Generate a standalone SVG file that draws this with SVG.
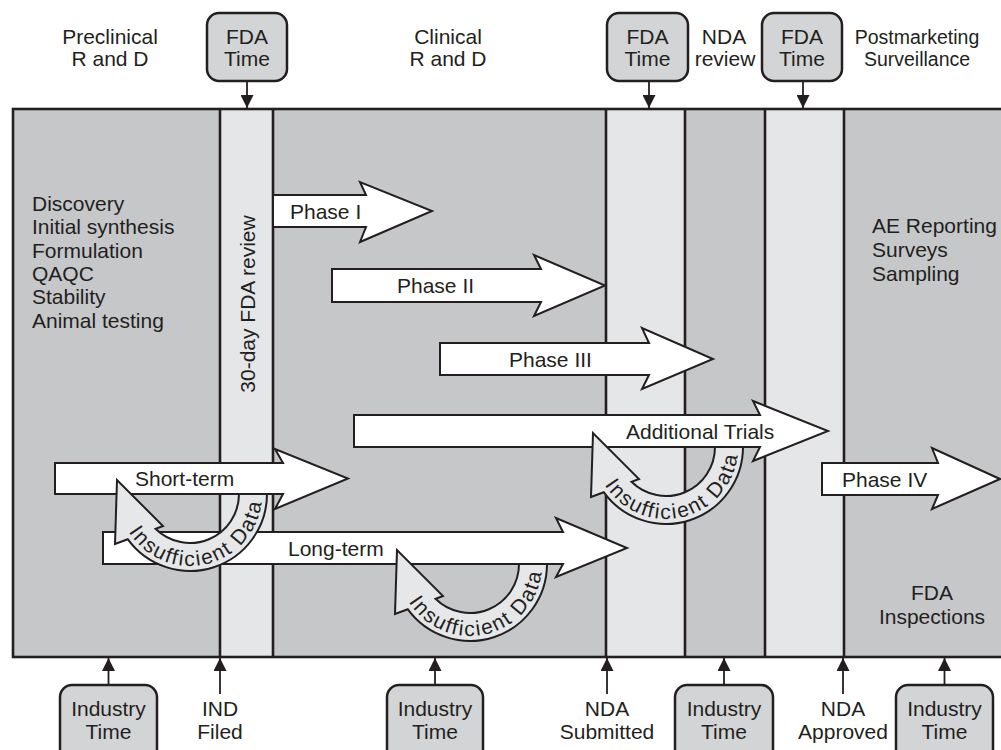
<svg xmlns="http://www.w3.org/2000/svg" xmlns:xlink="http://www.w3.org/1999/xlink" width="1001" height="750" viewBox="0 0 1001 750">
<style>
.t{font-family:"Liberation Sans",Arial,Helvetica,sans-serif;font-size:21px;fill:#231f20}
.m{text-anchor:middle}
.box{fill:#d3d4d6;stroke:#231f20;stroke-width:2.5}
.vl{stroke:#231f20;stroke-width:2.6;fill:none}
.arr{fill:#ffffff;stroke:#231f20;stroke-width:2;stroke-linejoin:miter}
.curv{fill:#e6e7e9;stroke:#231f20;stroke-width:2;stroke-linejoin:miter}
.con{stroke:#231f20;stroke-width:1.8;fill:none;marker-end:url(#ah)}
</style>
<defs>
<marker id="ah" viewBox="0 0 10 10" refX="10" refY="5" markerWidth="15" markerHeight="13" markerUnits="userSpaceOnUse" orient="auto">
<path d="M0,0 L10,5 L0,10 Z" fill="#231f20"/>
</marker>
<path id="cshape" d="M77,0 A77,77 0 0 1 -62.3,45.2 L-75,50 L-73,-14 L-27,32 L-34.5,34.8 A49,49 0 0 0 49,0 Z"/>
<path id="cpath" d="M-62.35,36 A72,72 0 0 0 72,0"/>
</defs>

<g id="background">
<rect x="13" y="109" width="1000" height="548" fill="#c6c7c9"/>
<rect x="220" y="109" width="53" height="548" fill="#e5e6e8"/>
<rect x="606" y="109" width="79" height="548" fill="#e5e6e8"/>
<rect x="765" y="109" width="79" height="548" fill="#e5e6e8"/>
<path class="vl" d="M220,109V657 M273,109V657 M606,109V657 M685,109V657 M765,109V657 M844,109V657"/>
<rect x="13" y="109" width="1000" height="548" fill="none" stroke="#231f20" stroke-width="2.6"/>
</g>

<g id="stage-texts">
<text class="t" x="32" y="211">Discovery</text>
<text class="t" x="32" y="234">Initial synthesis</text>
<text class="t" x="32" y="258">Formulation</text>
<text class="t" x="32" y="281">QAQC</text>
<text class="t" x="32" y="304">Stability</text>
<text class="t" x="32" y="328">Animal testing</text>
<text class="t m" transform="translate(255,304) rotate(-90)">30-day FDA review</text>
<text class="t" x="872" y="233">AE Reporting</text>
<text class="t" x="872" y="257">Surveys</text>
<text class="t" x="872" y="281">Sampling</text>
<text class="t m" x="932" y="600">FDA</text>
<text class="t m" x="932" y="624">Inspections</text>
</g>

<g id="phase-arrows">
<g id="phase1"><path class="arr" d="M273,195 L366,195 L360,182 L432,211 L360,242 L366,227 L273,227 Z"/><text class="t" x="290" y="218.5">Phase I</text></g>
<g id="phase2"><path class="arr" d="M332,269 L541,269 L534,255 L605,285.5 L534,316 L541,302 L332,302 Z"/><text class="t" x="397" y="293">Phase II</text></g>
<g id="phase3"><path class="arr" d="M440,343 L649,343 L642,328 L713,359 L642,389 L649,375 L440,375 Z"/><text class="t" x="509" y="366.5">Phase III</text></g>
<g id="additional"><path class="arr" d="M354,415 L760,415 L753,401 L828,431 L753,461 L760,447 L354,447 Z"/><text class="t" x="626" y="438.5">Additional Trials</text></g>
<g id="shortterm"><path class="arr" d="M55,463 L283,463 L275,449 L348,478.5 L275,509 L283,494 L55,494 Z"/><text class="t" x="135" y="486">Short-term</text></g>
<g id="longterm"><path class="arr" d="M103,532 L563,532 L556,518 L627,548 L556,577 L563,564 L103,564 Z"/><text class="t" x="288" y="555.5">Long-term</text></g>
<g id="phase4"><path class="arr" d="M822,463 L938,463 L932,448 L1000,479 L932,509 L938,495 L822,495 Z"/><text class="t" x="842" y="486.5">Phase IV</text></g>
</g>

<g id="insufficient-data">
<g id="loop1" transform="translate(190,494)"><use xlink:href="#cshape" href="#cshape" class="curv"/><text class="t" letter-spacing="1.7"><textPath xlink:href="#cpath" href="#cpath" startOffset="2">Insufficient Data</textPath></text></g>
<g id="loop2" transform="translate(470,564)"><use xlink:href="#cshape" href="#cshape" class="curv"/><text class="t" letter-spacing="1.7"><textPath xlink:href="#cpath" href="#cpath" startOffset="2">Insufficient Data</textPath></text></g>
<g id="loop3" transform="translate(666,447)"><use xlink:href="#cshape" href="#cshape" class="curv"/><text class="t" letter-spacing="1.7"><textPath xlink:href="#cpath" href="#cpath" startOffset="2">Insufficient Data</textPath></text></g>
</g>

<g id="top-labels">
<text class="t m" x="110" y="43.5">Preclinical</text>
<text class="t m" x="110" y="66">R and D</text>
<text class="t m" x="448" y="43.5">Clinical</text>
<text class="t m" x="448" y="66">R and D</text>
<text class="t m" x="724" y="43.5">NDA</text>
<text class="t m" x="725" y="66">review</text>
<text class="t m" x="917" y="43.5" style="font-size:19.5px">Postmarketing</text>
<text class="t m" x="917" y="66" style="font-size:19.5px">Surveillance</text>
</g>

<g id="fda-time-1"><rect class="box" x="207" y="13" width="80" height="68" rx="12"/><text class="t m" x="247" y="43.5">FDA</text><text class="t m" x="247" y="66">Time</text></g>
<g id="fda-time-2"><rect class="box" x="607" y="13" width="81" height="68" rx="12"/><text class="t m" x="647.5" y="43.5">FDA</text><text class="t m" x="647.5" y="66">Time</text></g>
<g id="fda-time-3"><rect class="box" x="762" y="13" width="80" height="68" rx="12"/><text class="t m" x="802" y="43.5">FDA</text><text class="t m" x="802" y="66">Time</text></g>

<g id="industry-time-1"><rect class="box" x="60" y="685" width="97" height="80" rx="12"/><text class="t m" x="108.5" y="716">Industry</text><text class="t m" x="108.5" y="739">Time</text></g>
<g id="ind-filed"><text class="t m" x="220" y="716">IND</text><text class="t m" x="220" y="739">Filed</text></g>
<g id="industry-time-2"><rect class="box" x="387" y="685" width="96" height="80" rx="12"/><text class="t m" x="435" y="716">Industry</text><text class="t m" x="435" y="739">Time</text></g>
<g id="nda-submitted"><text class="t m" x="607" y="716">NDA</text><text class="t m" x="607" y="739">Submitted</text></g>
<g id="industry-time-3"><rect class="box" x="675" y="685" width="98" height="80" rx="12"/><text class="t m" x="724" y="716">Industry</text><text class="t m" x="724" y="739">Time</text></g>
<g id="nda-approved"><text class="t m" x="843" y="716">NDA</text><text class="t m" x="843" y="739">Approved</text></g>
<g id="industry-time-4"><rect class="box" x="896" y="685" width="97" height="80" rx="12"/><text class="t m" x="944.5" y="716">Industry</text><text class="t m" x="944.5" y="739">Time</text></g>

<g id="connectors">
<path class="con" d="M247,81V108"/>
<path class="con" d="M649,81V108"/>
<path class="con" d="M803,81V108"/>
<path class="con" d="M108.5,685V658"/>
<path class="con" d="M220,694V658"/>
<path class="con" d="M435,685V658"/>
<path class="con" d="M607,694V658"/>
<path class="con" d="M724,685V658"/>
<path class="con" d="M843,694V658"/>
<path class="con" d="M944.5,685V658"/>
</g>
</svg>
